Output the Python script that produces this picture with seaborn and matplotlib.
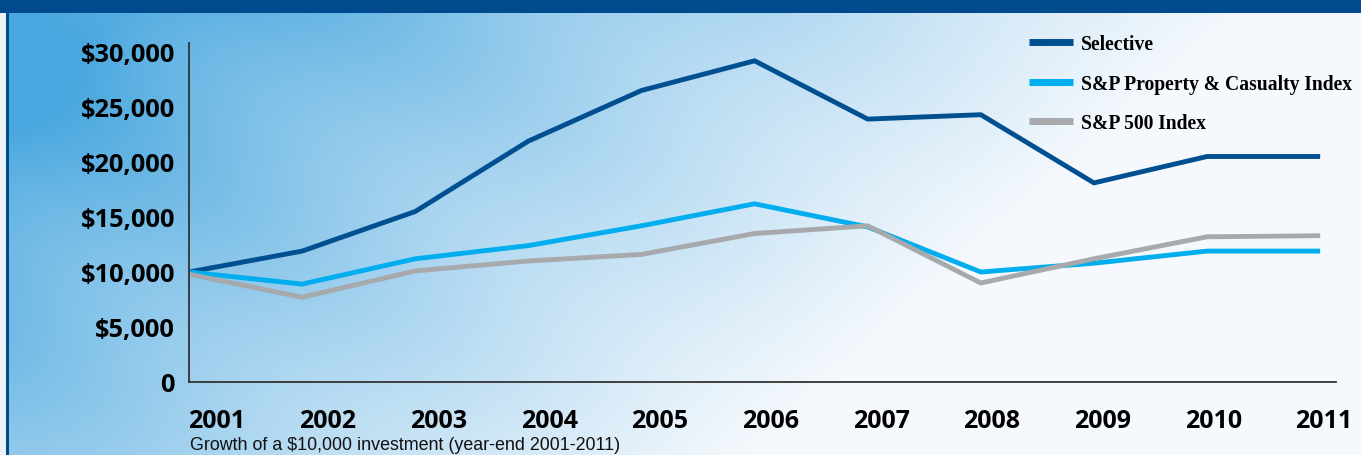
import numpy as np
import pandas as pd
import matplotlib
matplotlib.use("Agg")
import matplotlib.pyplot as plt
import matplotlib.transforms as mtransforms
from matplotlib.ticker import FuncFormatter
import seaborn as sns

# ---------------- data ----------------
years = [2001, 2002, 2003, 2004, 2005, 2006, 2007, 2008, 2009, 2010, 2011]
selective = [10000, 11900, 15500, 21900, 26500, 29200, 23900, 24300, 18100, 20500, 20500]
sp_pc = [10000, 8900, 11200, 12400, 14200, 16200, 14100, 10000, 10800, 11900, 11900]
sp_500 = [9800, 7700, 10100, 11000, 11600, 13500, 14200, 9000, 11200, 13200, 13300]
series_names = ["Selective", "S&P Property & Casualty Index", "S&P 500 Index"]
y_ticks = [0, 5000, 10000, 15000, 20000, 25000, 30000]
caption = "Growth of a $10,000 investment (year-end 2001-2011)"

df = pd.DataFrame({
    "year": years * 3,
    "value": selective + sp_pc + sp_500,
    "series": [series_names[0]] * len(years) + [series_names[1]] * len(years) + [series_names[2]] * len(years),
})
palette = {series_names[0]: "#004f91", series_names[1]: "#00aeef", series_names[2]: "#a7a9ac"}

sns.set_theme(style="white")
W, H = 1361, 456
fig = plt.figure(figsize=(W / 100, H / 100), dpi=100)

# ---------------- background ----------------
bg = fig.add_axes([0, 0, 1, 1], zorder=-5)
yy, xx = np.mgrid[0:H, 0:W]
u = xx / W
v = yy / H
t = np.clip(1.2 * u + 0.45 * v - 0.12, 0, 1) ** 0.85
band = 0.06 * np.sin((u * 3.0 - v * 1.6) * np.pi * 2) * (1 - t)
t = np.clip(t + band, 0, 1)
blue = np.array([0x48, 0xa7, 0xdf]) / 255
white = np.array([0xf6, 0xf9, 0xfd]) / 255
img = blue[None, None, :] * (1 - t[..., None]) + white[None, None, :] * t[..., None]
hdr = np.array([0x00, 0x4b, 0x8d]) / 255
img[:14, :, :] = hdr
img[14:, 6:9, :] = hdr
img[14:, :6, :] = np.array([0.93, 0.95, 0.98])
bg.imshow(img, aspect="auto", extent=[0, 1, 0, 1], origin="upper")
bg.set_axis_off()

# ---------------- chart ----------------
ax = fig.add_axes([189 / W, 1 - 383 / H, (1336 - 189) / W, (383 - 44) / H])
ax.patch.set_alpha(0)
sns.lineplot(data=df, x="year", y="value", hue="series", palette=palette,
             linewidth=3.5, solid_capstyle="butt", ax=ax, legend=True)

ax.set_xlim(2001, 2011.14)
ax.set_ylim(0, 30818)
ax.set_xticks(years)
ax.set_yticks(y_ticks)
ax.yaxis.set_major_formatter(FuncFormatter(lambda val, pos: "0" if val == 0 else f"${val:,.0f}"))
ax.set_xlabel("")
ax.set_ylabel("")
for s in ["top", "right"]:
    ax.spines[s].set_visible(False)
for s in ["left", "bottom"]:
    ax.spines[s].set_color("#333333")
    ax.spines[s].set_linewidth(1.3)
ax.tick_params(axis="both", length=0)
ax.tick_params(axis="y", pad=10)
ax.tick_params(axis="x", pad=18.5)
for lab in ax.get_yticklabels():
    lab.set_fontfamily("Open Sans")
    lab.set_fontweight("bold")
    lab.set_fontsize(18.3)
    lab.set_color("black")
for i, lab in enumerate(ax.get_xticklabels()):
    lab.set_fontfamily("Open Sans")
    lab.set_fontweight("bold")
    lab.set_fontsize(18)
    lab.set_color("black")
    shift = (28 - 2.4 * i) / 100
    lab.set_transform(lab.get_transform() + mtransforms.ScaledTranslation(shift, 0, fig.dpi_scale_trans))

# legend
handles, labels = ax.get_legend_handles_labels()
leg = ax.legend(handles, labels, loc="upper left", bbox_to_anchor=(1029 / W, 1 - 35 / H),
                bbox_transform=fig.transFigure, frameon=False, borderpad=0, borderaxespad=0,
                handlelength=2.25, handletextpad=0.4, labelspacing=1.0,
                prop={"family": "Liberation Serif", "weight": "bold", "size": 14.1})
for h in leg.get_lines():
    h.set_linewidth(5)
    h.set_solid_capstyle("butt")
for txt in leg.get_texts():
    txt.set_color("black")

fig.text(190 / W, 1 - 446 / H, caption, ha="left", va="center",
         fontfamily="Liberation Sans", fontsize=12.9, color="#111111")

fig.savefig("out.png", dpi=100)
